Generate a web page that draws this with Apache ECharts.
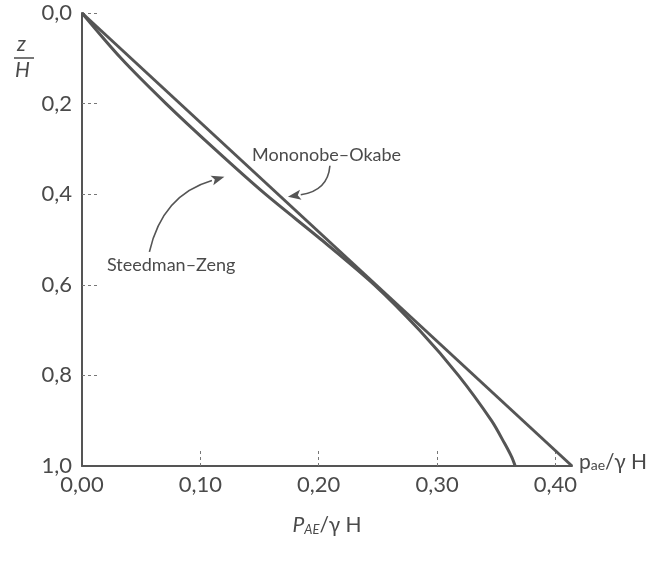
<!DOCTYPE html>
<html>
<head>
<meta charset="utf-8">
<script src="https://cdn.jsdelivr.net/npm/echarts@6/dist/echarts.min.js"></script>
<style>
html,body{margin:0;padding:0;background:#fff;}
#chart{width:648px;height:577px;}
</style>
</head>
<body>
<div id="chart"></div>
<script>
// ---- data ----
const xTickValues = [0, 0.1, 0.2, 0.3, 0.4];
const yTickValues = [0, 0.2, 0.4, 0.6, 0.8, 1.0];
const moZ = [0, 1.0];
const moP = [0, 0.414];
const szZ = [0, 0.1, 0.2, 0.3, 0.4, 0.5, 0.6, 0.7, 0.8, 0.9, 0.95, 0.98, 1.0];
const szP = [0, 0.033, 0.071, 0.112, 0.155, 0.202, 0.247, 0.285, 0.318, 0.346, 0.357, 0.363, 0.366];
const labelMO = 'Mononobe–Okabe';
const labelSZ = 'Steedman–Zeng';

const FONT = 'Lato';
const TXT = '#4a4a4a';
const LINE = '#555';

const chart = echarts.init(document.getElementById('chart'), null, {renderer: 'canvas'});
const fmtX = v => v.toFixed(2).replace('.', ',');
const fmtY = v => v.toFixed(1).replace('.', ',');

const option = {
  backgroundColor: '#fff',
  animation: false,
  grid: {left: 82, top: 13, right: 76, bottom: 111, containLabel: false},
  xAxis: {
    type: 'value', min: 0, max: 0.414, interval: 0.1,
    axisLine: {show: true, onZero: false, lineStyle: {color: LINE, width: 2}},
    axisTick: {show: true, inside: true, length: 18, customValues: [0.1, 0.2, 0.3, 0.4],
      lineStyle: {color: '#777', width: 1, type: [3, 3]}},
    axisLabel: {customValues: xTickValues, formatter: fmtX, color: TXT, fontFamily: FONT, fontSize: 22, margin: 8},
    splitLine: {show: false},
    name: '{i|P}{sub|AE}{n|/γ H}', nameLocation: 'middle', nameGap: 48,
    nameTextStyle: {rich: {
      i: {fontFamily: FONT, fontStyle: 'italic', fontSize: 21, color: TXT},
      sub: {fontFamily: FONT, fontStyle: 'italic', fontSize: 13, color: TXT, padding: [9, 0, 0, 0]},
      n: {fontFamily: FONT, fontSize: 21, color: TXT}
    }}
  },
  yAxis: {
    type: 'value', min: 0, max: 1, interval: 0.2, inverse: true,
    axisLine: {show: true, onZero: false, lineStyle: {color: LINE, width: 2}},
    axisTick: {show: true, inside: true, length: 18, customValues: [0, 0.2, 0.4, 0.6, 0.8],
      lineStyle: {color: '#777', width: 1, type: [3, 3]}},
    axisLabel: {customValues: yTickValues, formatter: fmtY, color: TXT, fontFamily: FONT, fontSize: 22, margin: 10},
    splitLine: {show: false}
  },
  series: [
    {
      name: labelMO, type: 'line', symbol: 'none',
      data: moZ.map((z, i) => [moP[i], z]),
      lineStyle: {color: LINE, width: 3}
    },
    {
      name: labelSZ, type: 'line', symbol: 'none', smooth: 0.3,
      data: szZ.map((z, i) => [szP[i], z]),
      lineStyle: {color: LINE, width: 3}
    }
  ]
};
chart.setOption(option);

// annotations anchored to data positions
function px(p, z) { return chart.convertToPixel({gridIndex: 0}, [p, z]); }
function arrow(start, ctrl, tip) {
  const dx = tip[0] - ctrl[0], dy = tip[1] - ctrl[1];
  const len = Math.hypot(dx, dy);
  const ux = dx / len, uy = dy / len;
  const L = 13, W = 5;
  const bx = tip[0] - ux * L, by = tip[1] - uy * L;
  return [
    {type: 'bezierCurve', shape: {x1: start[0], y1: start[1], x2: bx, y2: by, cpx1: ctrl[0], cpy1: ctrl[1]},
      style: {stroke: LINE, lineWidth: 1.6, fill: null}},
    {type: 'polygon', shape: {points: [tip, [bx - uy * W, by + ux * W], [bx + ux * 3, by + uy * 3], [bx + uy * W, by - ux * W]]},
      style: {fill: LINE}}
  ];
}
const moTip = px(0.414 * 0.41, 0.41); moTip[0] += 5; moTip[1] -= 2;
const szTip = px(0.1237, 0.355); szTip[0] -= 4; szTip[1] += 3;
const mo = arrow([moTip[0] + 42, moTip[1] - 31], [moTip[0] + 40, moTip[1] - 6], moTip);
const sz = arrow([szTip[0] - 75, szTip[1] + 75], [szTip[0] - 62, szTip[1] + 18], szTip);
const axisEnd = px(0.414, 1.0);

chart.setOption({
  graphic: [
    ...mo, ...sz,
    {type: 'text', left: 252, top: 146,
      style: {text: labelMO, font: '18px ' + FONT, fill: TXT}},
    {type: 'text', left: 107, top: 256,
      style: {text: labelSZ, font: '18px ' + FONT, fill: TXT}},
    {type: 'text', left: axisEnd[0] + 7, top: axisEnd[1] - 14,
      style: {text: 'p{s|ae}/γ H', font: '21px ' + FONT, fill: TXT,
        rich: {s: {fontFamily: FONT, fontSize: 14, fill: TXT, padding: [5, 0, 0, 0]}}}},
    {type: 'text', left: 17, top: 34, style: {text: 'z', font: 'italic 21px ' + FONT, fill: TXT}},
    {type: 'line', shape: {x1: 14, y1: 58, x2: 34, y2: 58}, style: {stroke: TXT, lineWidth: 1.5}},
    {type: 'text', left: 15, top: 60, style: {text: 'H', font: 'italic 21px ' + FONT, fill: TXT}}
  ]
});
</script>
</body>
</html>
